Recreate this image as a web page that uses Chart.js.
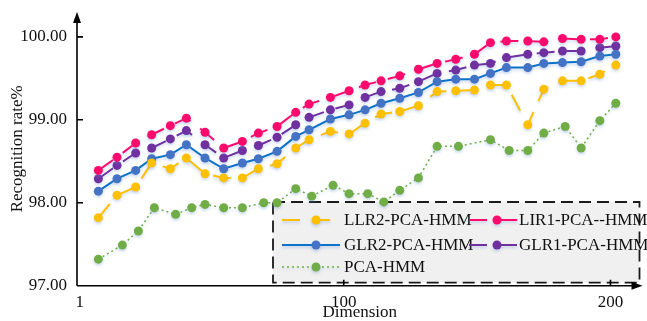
<!DOCTYPE html>
<html>
<head>
<meta charset="utf-8">
<script src="https://cdn.jsdelivr.net/npm/chart.js@4/dist/chart.umd.min.js"></script>
<style>
  html, body { margin: 0; padding: 0; background: #fff; }
  #wrap { width: 647px; height: 321px; }
</style>
</head>
<body>
<div id="wrap"><canvas id="chart"></canvas></div>
<script>
// dimensions (x) for the four LR series and for PCA-HMM
const dims = [8, 15, 22, 28, 35, 41, 48, 55, 62, 68, 75, 82, 87, 95, 102, 108, 114, 121, 128, 135, 142, 149, 155, 161, 169, 175, 182, 189, 196, 202];
const pcaDims = [8, 17, 23, 29, 37, 43, 48, 55, 62, 70, 75, 82, 88, 96, 102, 109, 115, 121, 128, 135, 143, 155, 162, 169, 175, 183, 189, 196, 202];

// recognition rate %
const llr2 = [97.82, 98.09, 98.19, 98.48, 98.41, 98.54, 98.35, 98.30, 98.30, 98.41, 98.47, 98.66, 98.76, 98.86, 98.83, 98.96, 99.07, 99.10, 99.17, 99.34, 99.35, 99.36, 99.42, 99.42, 98.94, 99.37, 99.47, 99.47, 99.55, 99.66];
const lir1 = [98.39, 98.55, 98.72, 98.82, 98.93, 99.02, 98.85, 98.66, 98.74, 98.84, 98.92, 99.09, 99.19, 99.27, 99.35, 99.42, 99.47, 99.53, 99.61, 99.68, 99.73, 99.79, 99.93, 99.95, 99.95, 99.94, 99.98, 99.97, 99.97, 100.00];
const glr2 = [98.14, 98.29, 98.39, 98.53, 98.58, 98.70, 98.54, 98.41, 98.48, 98.53, 98.62, 98.80, 98.88, 99.01, 99.06, 99.12, 99.20, 99.26, 99.33, 99.46, 99.49, 99.49, 99.56, 99.63, 99.63, 99.68, 99.69, 99.70, 99.77, 99.79];
const glr1 = [98.29, 98.45, 98.60, 98.66, 98.77, 98.87, 98.70, 98.54, 98.63, 98.69, 98.79, 98.94, 99.03, 99.12, 99.18, 99.27, 99.34, 99.38, 99.46, 99.56, 99.60, 99.66, 99.68, 99.75, 99.79, 99.81, 99.83, 99.83, 99.87, 99.89];
const pcaHmm = [97.32, 97.49, 97.66, 97.94, 97.86, 97.94, 97.98, 97.94, 97.94, 98.00, 98.00, 98.17, 98.08, 98.21, 98.11, 98.11, 98.01, 98.15, 98.30, 98.68, 98.68, 98.76, 98.63, 98.63, 98.84, 98.92, 98.66, 98.99, 99.20];

const yTicks = [97, 98, 99, 100];
const xTicks = [1, 100, 200];

const FONT = "'Liberation Serif', 'Times New Roman', serif";
const SHADOW = 'rgba(110, 150, 215, 0.35)';

const toPoints = (xs, ys) => ys.map((v, i) => ({ x: xs[i], y: v }));

function series(label, xs, ys, color, pointColor, dash, width) {
  return {
    label: label,
    data: toPoints(xs, ys),
    borderColor: color,
    backgroundColor: pointColor,
    pointBackgroundColor: pointColor,
    pointBorderColor: pointColor,
    pointRadius: 4.5,
    pointBorderWidth: 0,
    borderWidth: width,
    borderDash: dash,
    tension: 0,
    fill: false
  };
}

// no automatic label padding: the plot box is set by layout.padding
function noLabelPadding(scale) {
  scale.paddingTop = 0;
  scale.paddingBottom = 0;
  scale.paddingLeft = 0;
  scale.paddingRight = 0;
}

// soft drop shadow under every series, like the original
const seriesShadow = {
  id: 'seriesShadow',
  beforeDatasetDraw(chart) {
    const ctx = chart.ctx;
    ctx.save();
    ctx.shadowColor = SHADOW;
    ctx.shadowBlur = 3;
    ctx.shadowOffsetX = 0;
    ctx.shadowOffsetY = 2;
  },
  afterDatasetDraw(chart) {
    chart.ctx.restore();
  }
};

// legend drawn inside the plot, under the points
const boxLegend = {
  id: 'boxLegend',
  beforeDatasetsDraw(chart) {
    const ctx = chart.ctx;
    const ca = chart.chartArea;
    const x0 = ca.left + 196, y0 = 202, x1 = ca.right - 3, y1 = ca.bottom - 3;
    ctx.save();
    ctx.fillStyle = '#f0f0f0';
    ctx.fillRect(x0, y0, x1 - x0, y1 - y0);
    ctx.strokeStyle = '#1a1a1a';
    ctx.lineWidth = 1.8;
    ctx.setLineDash([12, 6]);
    ctx.strokeRect(x0, y0, x1 - x0, y1 - y0);

    const slots = [
      { lx: x0 + 9, rx: x0 + 67, mx: x0 + 43, tx: x0 + 71, y: y0 + 18 },
      { lx: x0 + 196, rx: x0 + 244, mx: x0 + 224, tx: x0 + 246, y: y0 + 18 },
      { lx: x0 + 9, rx: x0 + 67, mx: x0 + 43, tx: x0 + 71, y: y0 + 43 },
      { lx: x0 + 196, rx: x0 + 244, mx: x0 + 224, tx: x0 + 246, y: y0 + 43 },
      { lx: x0 + 9, rx: x0 + 67, mx: x0 + 43, tx: x0 + 71, y: y0 + 65 }
    ];
    chart.data.datasets.forEach((ds, k) => {
      const s = slots[k];
      ctx.save();
      ctx.shadowColor = SHADOW;
      ctx.shadowBlur = 3;
      ctx.shadowOffsetY = 2;
      ctx.setLineDash(ds.borderDash || []);
      ctx.strokeStyle = ds.borderColor;
      ctx.lineWidth = ds.borderWidth;
      ctx.beginPath();
      ctx.moveTo(s.lx, s.y);
      ctx.lineTo(s.rx, s.y);
      ctx.stroke();
      ctx.setLineDash([]);
      ctx.fillStyle = ds.pointBackgroundColor;
      ctx.beginPath();
      ctx.arc(s.mx, s.y, 4.5, 0, Math.PI * 2);
      ctx.fill();
      ctx.restore();
      ctx.fillStyle = '#111';
      ctx.font = '17px ' + FONT;
      ctx.textBaseline = 'middle';
      ctx.textAlign = 'left';
      ctx.fillText(ds.label, s.tx, s.y + 1);
    });
    ctx.restore();
  }
};

// axis lines with arrows and inward tick marks
const arrowAxes = {
  id: 'arrowAxes',
  afterDraw(chart) {
    const ctx = chart.ctx;
    const ca = chart.chartArea;
    const xs = chart.scales.x, ys = chart.scales.y;
    ctx.save();
    ctx.strokeStyle = '#000';
    ctx.fillStyle = '#000';
    ctx.lineWidth = 1.6;
    ctx.beginPath();
    ctx.moveTo(ca.left, ca.bottom);
    ctx.lineTo(ca.left, ca.top + 8);
    ctx.moveTo(ca.left, ca.bottom);
    ctx.lineTo(ca.right - 8, ca.bottom);
    ys.ticks.forEach(t => {
      if (t.value === ys.min) return;
      const py = ys.getPixelForValue(t.value);
      ctx.moveTo(ca.left, py);
      ctx.lineTo(ca.left + 6, py);
    });
    xs.ticks.forEach(t => {
      if (t.value <= 1) return;
      const px = xs.getPixelForValue(t.value);
      ctx.moveTo(px, ca.bottom);
      ctx.lineTo(px, ca.bottom - 6);
    });
    ctx.stroke();
    // arrow heads
    ctx.beginPath();
    ctx.moveTo(ca.left, ca.top);
    ctx.lineTo(ca.left - 4, ca.top + 11);
    ctx.lineTo(ca.left + 4, ca.top + 11);
    ctx.closePath();
    ctx.fill();
    ctx.beginPath();
    ctx.moveTo(ca.right, ca.bottom);
    ctx.lineTo(ca.right - 11, ca.bottom - 4);
    ctx.lineTo(ca.right - 11, ca.bottom + 4);
    ctx.closePath();
    ctx.fill();
    ctx.restore();
  }
};

new Chart(document.getElementById('chart'), {
  type: 'line',
  data: {
    datasets: [
      series('LLR2-PCA-HMM', dims, llr2, '#ffc000', '#ffc000', [18, 12], 2),
      series('LIR1-PCA--HMM', dims, lir1, '#ff0a6c', '#ff0a6c', [18, 12], 2),
      series('GLR2-PCA-HMM', dims, glr2, '#0a72c8', '#4472c4', [], 2),
      series('GLR1-PCA-HMM', dims, glr1, '#7030a0', '#7030a0', [18, 12], 2),
      series('PCA-HMM', pcaDims, pcaHmm, '#70ad47', '#70ad47', [2, 3], 1.5)
    ]
  },
  options: {
    responsive: true,
    maintainAspectRatio: false,
    animation: false,
    layout: { padding: { top: 12, right: 0, bottom: 0, left: 0 } },
    plugins: {
      legend: { display: false },
      tooltip: { enabled: false }
    },
    scales: {
      x: {
        type: 'linear',
        min: 0,
        max: 212,
        afterBuildTicks: scale => { scale.ticks = xTicks.map(v => ({ value: v })); },
        afterFit: scale => { scale.height = 35.3; noLabelPadding(scale); },
        grid: { display: false, drawTicks: false },
        border: { display: false },
        ticks: {
          color: '#111',
          font: { family: FONT, size: 17 },
          padding: 7,
          maxRotation: 0,
          callback: v => String(v)
        },
        title: {
          display: true,
          text: 'Dimension',
          color: '#111',
          font: { family: FONT, size: 17, lineHeight: 1 },
          padding: { top: 0, bottom: 0 }
        }
      },
      y: {
        min: 97,
        max: 100.3,
        afterBuildTicks: scale => { scale.ticks = yTicks.map(v => ({ value: v })); },
        afterFit: scale => { scale.width = 77; noLabelPadding(scale); },
        grid: { display: false, drawTicks: false },
        border: { display: false },
        ticks: {
          color: '#111',
          font: { family: FONT, size: 17 },
          padding: 10,
          callback: v => Number(v).toFixed(2)
        },
        title: {
          display: true,
          text: 'Recognition rate%',
          color: '#111',
          font: { family: FONT, size: 17, lineHeight: 1.2 },
          padding: { top: 7, bottom: 0 }
        }
      }
    }
  },
  plugins: [seriesShadow, boxLegend, arrowAxes]
});
</script>
</body>
</html>
